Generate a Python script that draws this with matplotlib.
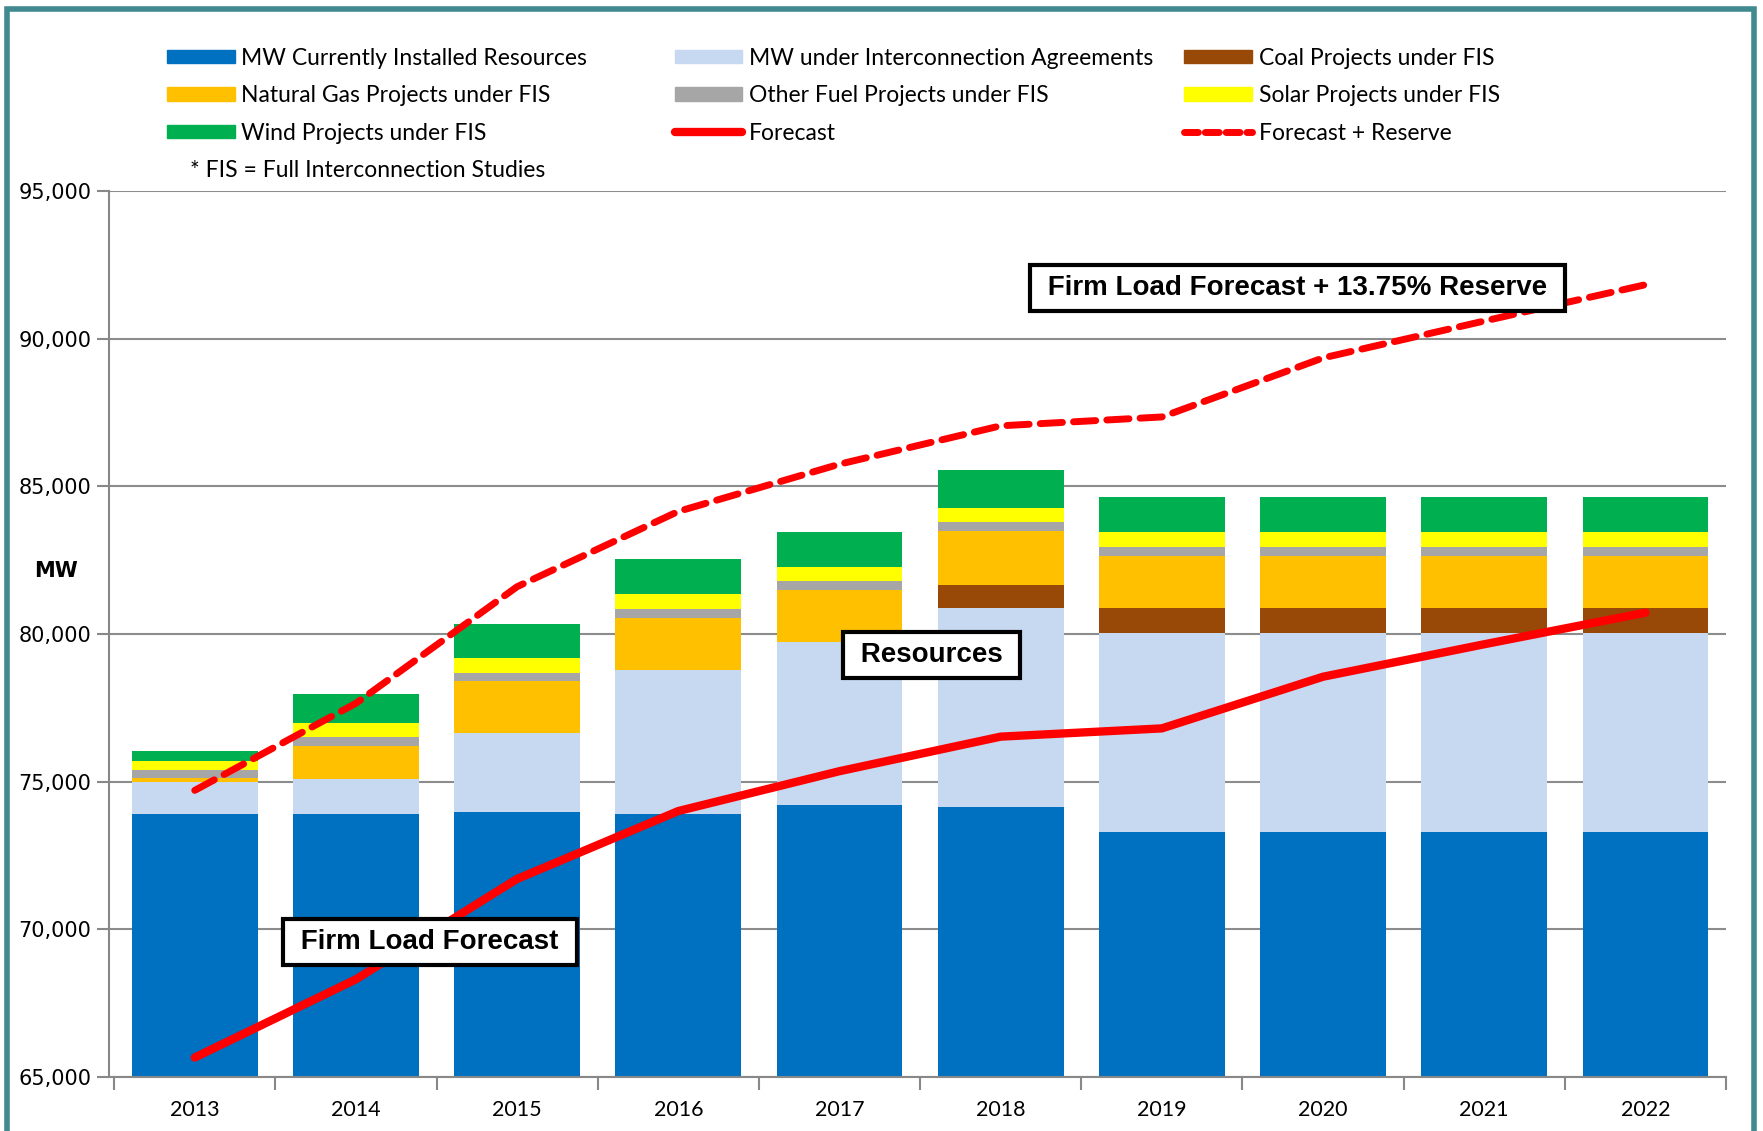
import numpy as np
import matplotlib.pyplot as plt
from matplotlib.patches import Patch, Rectangle
from matplotlib.lines import Line2D
from matplotlib.ticker import FuncFormatter

# values (MW)
years = ['2013', '2014', '2015', '2016', '2017', '2018', '2019', '2020', '2021', '2022']
installed = [73900, 73900, 73980, 73900, 74200, 74150, 73280, 73280, 73280, 73280]
interconn = [1100, 1170, 2670, 4880, 5530, 6730, 6760, 6760, 6760, 6760]
coal = [0, 0, 0, 0, 0, 790, 850, 850, 850, 850]
gas = [120, 1150, 1750, 1750, 1750, 1820, 1760, 1760, 1760, 1760]
other = [280, 280, 270, 300, 300, 300, 280, 280, 280, 280]
solar = [280, 480, 530, 530, 500, 480, 520, 520, 520, 520]
wind = [370, 1000, 1140, 1190, 1180, 1280, 1190, 1190, 1190, 1190]
forecast = [65650, 68300, 71700, 74000, 75350, 76520, 76800, 78550, 79650, 80720]
forecast_reserve = [74700, 77650, 81600, 84150, 85750, 87050, 87350, 89350, 90600, 91830]

series = [installed, interconn, coal, gas, other, solar, wind]
names = ['MW Currently Installed Resources', 'MW under Interconnection Agreements',
         'Coal Projects under FIS', 'Natural Gas Projects under FIS',
         'Other Fuel Projects under FIS', 'Solar Projects under FIS',
         'Wind Projects under FIS']
colors = ['#0070C0', '#C6D9F1', '#984807', '#FFC000', '#A6A6A6', '#FFFF00', '#00B050']

fig = plt.figure(figsize=(17.63, 11.31), dpi=100)
ax = fig.add_axes([0.062, 0.048, 0.917, 0.783])

x = np.arange(len(years))
bottom = np.zeros(len(years))
for vals, col in zip(series, colors):
    ax.bar(x, vals, bottom=bottom, width=0.78, color=col, zorder=2)
    bottom += np.array(vals)

ax.plot(x, forecast, color='#FF0000', lw=6, solid_capstyle='round', zorder=3)
ax.plot(x, forecast_reserve, color='#FF0000', lw=5, linestyle=(0, (3.2, 1.6)),
        dash_capstyle='round', zorder=3)

ax.set_xlim(-0.53, 9.5)
ax.set_ylim(65000, 95000)
ax.set_yticks(np.arange(65000, 95001, 5000))
ax.yaxis.set_major_formatter(FuncFormatter(lambda v, p: f'{int(v):,}'))
ax.set_xticks(x)
ax.set_xticklabels(years, fontfamily='Lato', fontsize=15.5)
ax.set_xticks(np.arange(-0.5, 9.6, 1), minor=True)
ax.tick_params(axis='x', which='major', length=0, pad=17)
ax.tick_params(axis='x', which='minor', length=9, width=1.5, color='#888888')
ax.tick_params(axis='y', length=9, width=1.5, color='#888888', labelsize=15, pad=4)

ax.yaxis.grid(True, color='#8c8c8c', lw=1.5)
ax.set_axisbelow(True)
for s in ['top', 'right']:
    ax.spines[s].set_visible(False)
for s in ['left', 'bottom']:
    ax.spines[s].set_color('#888888')
    ax.spines[s].set_linewidth(1.5)

fig.text(0.032, 0.495, 'MW', fontsize=15, fontweight='bold', ha='center', va='center')

# boxed annotations
box = dict(boxstyle='square,pad=0.36', facecolor='white', edgecolor='black', lw=3)
ax.text(6.84, 91725, ' Firm Load Forecast + 13.75% Reserve ', fontsize=20,
        fontweight='bold', family='Liberation Sans', ha='center', va='center',
        bbox=box, zorder=5)
ax.text(4.57, 79280, ' Resources ', fontsize=20, fontweight='bold',
        family='Liberation Sans', ha='center', va='center', bbox=box, zorder=5)
ax.text(1.46, 69570, ' Firm Load Forecast ', fontsize=20, fontweight='bold',
        family='Liberation Sans', ha='center', va='center', bbox=box, zorder=5)

# legend: three columns placed like the original
h = [Patch(color=c) for c in colors]
h_fc = Line2D([], [], color='#FF0000', lw=6, solid_capstyle='round')
h_fr = Line2D([], [], color='#FF0000', lw=5, linestyle=(0, (2.0, 1.0)), dash_capstyle='round')
cols = [([h[0], h[3], h[6]], [names[0], names[3], names[6]], 0.0895),
        ([h[1], h[4], h_fc], [names[1], names[4], 'Forecast'], 0.3775),
        ([h[2], h[5], h_fr], [names[2], names[5], 'Forecast + Reserve'], 0.6665)]
for hs, ls, xpos in cols:
    fig.legend(hs, ls, loc='upper left', bbox_to_anchor=(xpos, 0.966), frameon=False,
               prop={'family': 'Lato', 'size': 16.5}, handlelength=2.95, handleheight=0.55,
               handletextpad=0.3, labelspacing=0.72, borderaxespad=0)
fig.text(0.108, 0.849, '* FIS = Full Interconnection Studies', fontfamily='Lato',
         fontsize=16.5, va='center')

# teal frame around the chart
fig.patches.append(Rectangle((0.004, -0.05), 0.991, 1.042, transform=fig.transFigure,
                             fill=False, edgecolor='#40898e', lw=4))

fig.savefig('out.png', dpi=100)
